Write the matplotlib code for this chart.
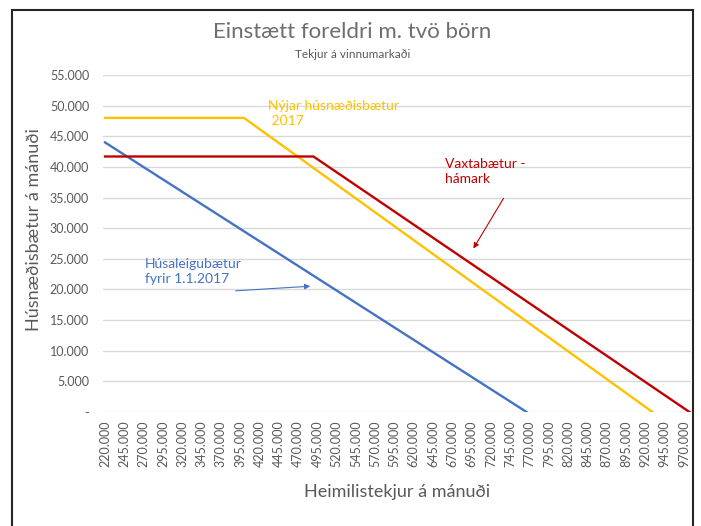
import matplotlib.pyplot as plt
import matplotlib.patches as patches
from matplotlib.ticker import FuncFormatter

# Gögn lesin af myndinni
tekjur_ticks = list(range(220000, 970001, 25000))
y_ticks = list(range(0, 55001, 5000))

husaleigu_x = [220000, 766000]
husaleigu_y = [44000, 0]

nyjar_x = [220000, 400000, 929000]
nyjar_y = [48000, 48000, 0]

vaxta_x = [220000, 490000, 977000]
vaxta_y = [41700, 41700, 0]

plt.rcParams['font.family'] = ['Lato', 'DejaVu Sans']
grar = '#595959'

fig = plt.figure(figsize=(7.01, 5.26), dpi=100)
ax = fig.add_axes([103 / 701, 1 - 412 / 526, 588 / 701, 337 / 526])

ax.plot(husaleigu_x, husaleigu_y, color='#4472C4', lw=1.7)
ax.plot(nyjar_x, nyjar_y, color='#FFC000', lw=1.7)
ax.plot(vaxta_x, vaxta_y, color='#C00000', lw=1.7)

ax.set_xlim(217400, 979000)
ax.set_ylim(0, 55000)


def punktur(v, pos):
    if v == 0:
        return '-'
    return f'{int(v):,}'.replace(',', '.')


ax.set_xticks(tekjur_ticks)
ax.xaxis.set_major_formatter(FuncFormatter(punktur))
ax.set_yticks(y_ticks)
ax.yaxis.set_major_formatter(FuncFormatter(punktur))
ax.tick_params(axis='x', labelrotation=90, length=0, labelsize=9, colors=grar, pad=6)
ax.tick_params(axis='y', length=0, labelsize=9, colors=grar, pad=10)
ax.grid(axis='y', color='#D9D9D9', lw=1)
ax.set_axisbelow(True)
for s in ax.spines.values():
    s.set_visible(False)

ax.set_xlabel('Heimilistekjur á mánuði', fontsize=13, color=grar, labelpad=12)
ax.set_ylabel('Húsnæðisbætur á mánuði', fontsize=13, color=grar)
ax.yaxis.set_label_coords(-0.104, 0.54)

fig.text(0.503, 1 - 32 / 526, 'Einstætt foreldri m. tvö börn', ha='center', va='center',
         fontsize=16, color='#6E6E6E')
fig.text(0.503, 1 - 55 / 526, 'Tekjur á vinnumarkaði', ha='center', va='center',
         fontsize=8.5, color=grar)

# Skýringartextar
ax.text(431000, 51000, 'Nýjar húsnæðisbætur\n 2017', color='#FFC000', fontsize=10,
        ha='left', va='top', linespacing=1.3)
ax.annotate('', xy=(695300, 26300), xytext=(738000, 35250),
            arrowprops=dict(arrowstyle='-|>', color='#C00000', lw=0.8, mutation_scale=8))
ax.text(660300, 41450, 'Vaxtabætur -\nhámark', color='#C00000', fontsize=10,
        ha='left', va='top', linespacing=1.3)
ax.annotate('', xy=(489400, 20560), xytext=(385750, 19750),
            arrowprops=dict(arrowstyle='-|>', color='#4472C4', lw=0.8, mutation_scale=8))
ax.text(271800, 25130, 'Húsaleigubætur\nfyrir 1.1.2017', color='#4472C4', fontsize=10,
        ha='left', va='top', linespacing=1.3)

# Rammi utan um myndritið
fig.patches.append(patches.Rectangle((12 / 701, -0.05), 681 / 701, 1.05 - 10 / 526,
                                     transform=fig.transFigure, fill=False,
                                     edgecolor='#262626', lw=1.5))

fig.savefig('out.png', dpi=100)
